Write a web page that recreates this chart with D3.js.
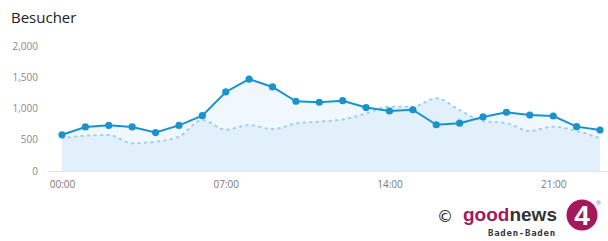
<!DOCTYPE html>
<html lang="de">
<head>
<meta charset="UTF-8">
<title>Besucher</title>
<script src="https://d3js.org/d3.v7.min.js"></script>
<style>
    body { margin: 0; background: #fff; font-family: "Open Sans", Arial, sans-serif; }
    svg { display: block; }
</style>
</head>
<body>
<svg width="608" height="241"></svg>
<script>
// hours of the day
var hours = ["00:00","01:00","02:00","03:00","04:00","05:00","06:00","07:00","08:00","09:00","10:00","11:00",
             "12:00","13:00","14:00","15:00","16:00","17:00","18:00","19:00","20:00","21:00","22:00","23:00"];
// current visitors (solid line)
var visitors = [580, 705, 730, 705, 615, 730, 885, 1265, 1470, 1345, 1115, 1100,
                1125, 1015, 960, 980, 740, 765, 865, 940, 895, 880, 710, 655];
// previous period (dotted line)
var previous = [525, 565, 575, 445, 470, 550, 815, 660, 735, 670, 760, 790,
                825, 920, 1030, 1030, 1165, 975, 800, 765, 640, 710, 640, 525];
var yTicks = [0, 500, 1000, 1500, 2000];
var xTickLabels = ["00:00", "07:00", "14:00", "21:00"];

var svg = d3.select("svg");

var x = d3.scalePoint().domain(hours).range([62, 600]);
var y = d3.scaleLinear().domain([0, 2000]).range([171, 46]);

var fmt = function(v) { return d3.format(",")(v); };

// title
svg.append("text").attr("x", 11).attr("y", 23)
   .attr("font-size", 15).attr("fill", "#222").text("Besucher");

// y axis labels
svg.append("g").attr("transform", "translate(38,0)")
   .call(d3.axisLeft(y).tickValues(yTicks).tickSize(0).tickPadding(0).tickFormat(fmt))
   .call(g => g.select(".domain").remove())
   .call(g => g.selectAll("text").attr("font-family", "Open Sans, Arial, sans-serif")
        .attr("font-size", 10).attr("fill", "#8a8a8a"));

// areas
var areaMain = d3.area().x((d, i) => x(hours[i])).y0(y(0)).y1(d => y(d));
var areaPrev = d3.area().x((d, i) => x(hours[i])).y0(y(0)).y1(d => y(d)).curve(d3.curveMonotoneX);

svg.append("path").datum(visitors).attr("d", areaMain).attr("fill", "#f0f7fd");
svg.append("path").datum(previous).attr("d", areaPrev).attr("fill", "#e1f0fa");

// x axis line + labels
svg.append("g").attr("transform", "translate(0," + y(0) + ")")
   .call(d3.axisBottom(x).tickValues(xTickLabels).tickSize(0).tickPadding(10))
   .call(g => g.select(".domain").attr("stroke", "#e3e3e3").attr("d", "M48,0.5H608"))
   .call(g => g.selectAll("text").attr("font-family", "Open Sans, Arial, sans-serif")
        .attr("font-size", 10).attr("fill", "#777"));

// dotted previous line
svg.append("path").datum(previous)
   .attr("d", d3.line().x((d, i) => x(hours[i])).y(d => y(d)).curve(d3.curveMonotoneX))
   .attr("fill", "none").attr("stroke", "#9fd0e8").attr("stroke-width", 2)
   .attr("stroke-dasharray", "1.5,5").attr("stroke-linecap", "round");

// main line
svg.append("path").datum(visitors)
   .attr("d", d3.line().x((d, i) => x(hours[i])).y(d => y(d)))
   .attr("fill", "none").attr("stroke", "#1a93cd").attr("stroke-width", 2);

svg.append("g").selectAll("circle").data(visitors).enter().append("circle")
   .attr("cx", (d, i) => x(hours[i])).attr("cy", d => y(d)).attr("r", 3.6)
   .attr("fill", "#1a93cd");

// logo
var logo = svg.append("g");
logo.append("text").attr("x", 437).attr("y", 222).attr("font-size", 16)
    .attr("font-family", "DejaVu Sans, sans-serif").attr("fill", "#222").text("©");
var gn = logo.append("text").attr("x", 463).attr("y", 221).attr("font-size", 19)
    .attr("font-weight", "bold").attr("font-family", "Liberation Sans, Arial, sans-serif");
gn.append("tspan").attr("fill", "#a4195c").text("good");
gn.append("tspan").attr("fill", "#333").text("news");
logo.append("text").attr("x", 488).attr("y", 236).attr("font-size", 9)
    .attr("font-weight", "bold").attr("letter-spacing", 0.75)
    .attr("font-family", "DejaVu Sans Mono, monospace").attr("fill", "#333")
    .text("Baden-Baden");
logo.append("circle").attr("cx", 582).attr("cy", 215).attr("r", 15.5).attr("fill", "#a4195c");
logo.append("text").attr("x", 582).attr("y", 225).attr("text-anchor", "middle")
    .attr("font-size", 28).attr("font-weight", "bold")
    .attr("font-family", "Liberation Sans, Arial, sans-serif").attr("fill", "#fff").text("4");
logo.append("text").attr("x", 596).attr("y", 205).attr("font-size", 6).attr("fill", "#888").text("®");
</script>
</body>
</html>
